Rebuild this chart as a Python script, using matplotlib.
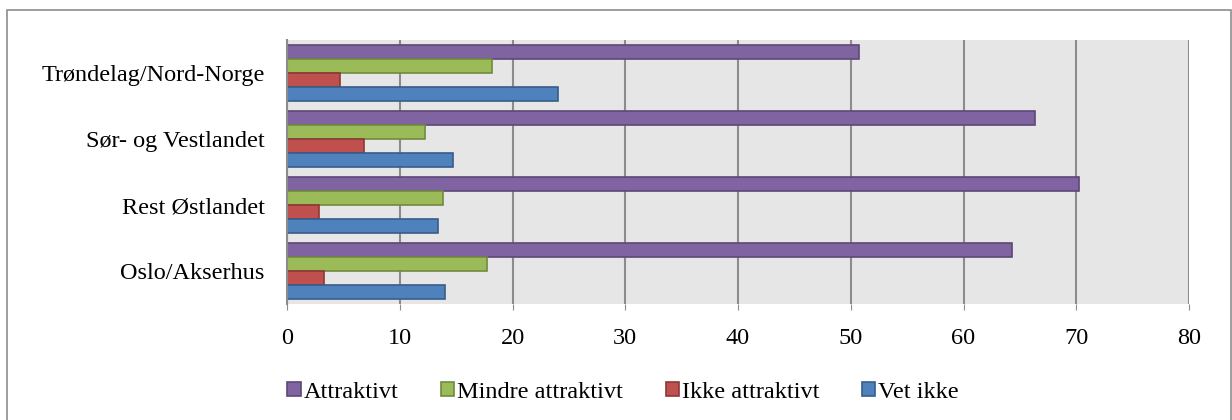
import matplotlib.pyplot as plt
import numpy as np
from matplotlib.patches import Rectangle

plt.rcParams["font.family"] = ["Liberation Serif", "DejaVu Serif"]

regions = ["Oslo/Akserhus", "Rest Østlandet", "Sør- og Vestlandet", "Trøndelag/Nord-Norge"]
series = ["Attraktivt", "Mindre attraktivt", "Ikke attraktivt", "Vet ikke"]
attraktivt = [64.3, 70.2, 66.3, 50.7]
mindre = [17.7, 13.8, 12.2, 18.2]
ikke = [3.3, 2.8, 6.8, 4.7]
vet_ikke = [14.0, 13.4, 14.7, 24.0]
xticks = [0, 10, 20, 30, 40, 50, 60, 70, 80]

values = [attraktivt, mindre, ikke, vet_ikke]
fills = ["#8064A2", "#9BBB59", "#C0504D", "#4F81BD"]
edges = ["#5C4776", "#71893F", "#8C3836", "#385D8A"]

fig = plt.figure(figsize=(12.32, 4.2), dpi=100)
ax = fig.add_axes([287 / 1232, 116 / 420, 902 / 1232, 264 / 420])

# outer chart frame
fig.patches.append(Rectangle((7 / 1232, -0.05), 1224 / 1232, 1.05 - 10.5 / 420,
                             transform=fig.transFigure, fill=False,
                             edgecolor="#8C8C8C", linewidth=1.2))

y = np.arange(len(regions))
pitch = 0.212
h = 0.20
for k, (vals, fc, ec, name) in enumerate(zip(values, fills, edges, series)):
    offs = (1.5 - k) * pitch
    ax.barh(y + offs, vals, height=h, color=fc, edgecolor=ec, linewidth=1.2,
            label=name, zorder=3)

ax.set_facecolor("#E6E6E6")
ax.set_xlim(0, 80)
ax.set_ylim(-0.5, 3.5)
ax.set_xticks(xticks)
ax.set_yticks(y)
ax.set_yticklabels(regions)
ax.grid(axis="x", color="#8C8C8C", linewidth=1.5, zorder=1)
for s in ["top", "right", "bottom"]:
    ax.spines[s].set_visible(False)
ax.spines["left"].set_color("#8C8C8C")
ax.spines["left"].set_linewidth(1.5)
ax.spines["left"].set_zorder(4)
ax.tick_params(axis="y", length=0, pad=16, labelsize=17.5)
ax.tick_params(axis="x", length=4, color="#8C8C8C", pad=13, labelsize=17.5)

handles, labels = ax.get_legend_handles_labels()
fig.legend(handles, labels, loc="center", bbox_to_anchor=(623 / 1232, 1 - 392 / 420),
           ncol=4, frameon=False, fontsize=17.5, handlelength=0.55, handleheight=0.55,
           handletextpad=0.12, columnspacing=1.75)

fig.savefig("out.png", dpi=100)
